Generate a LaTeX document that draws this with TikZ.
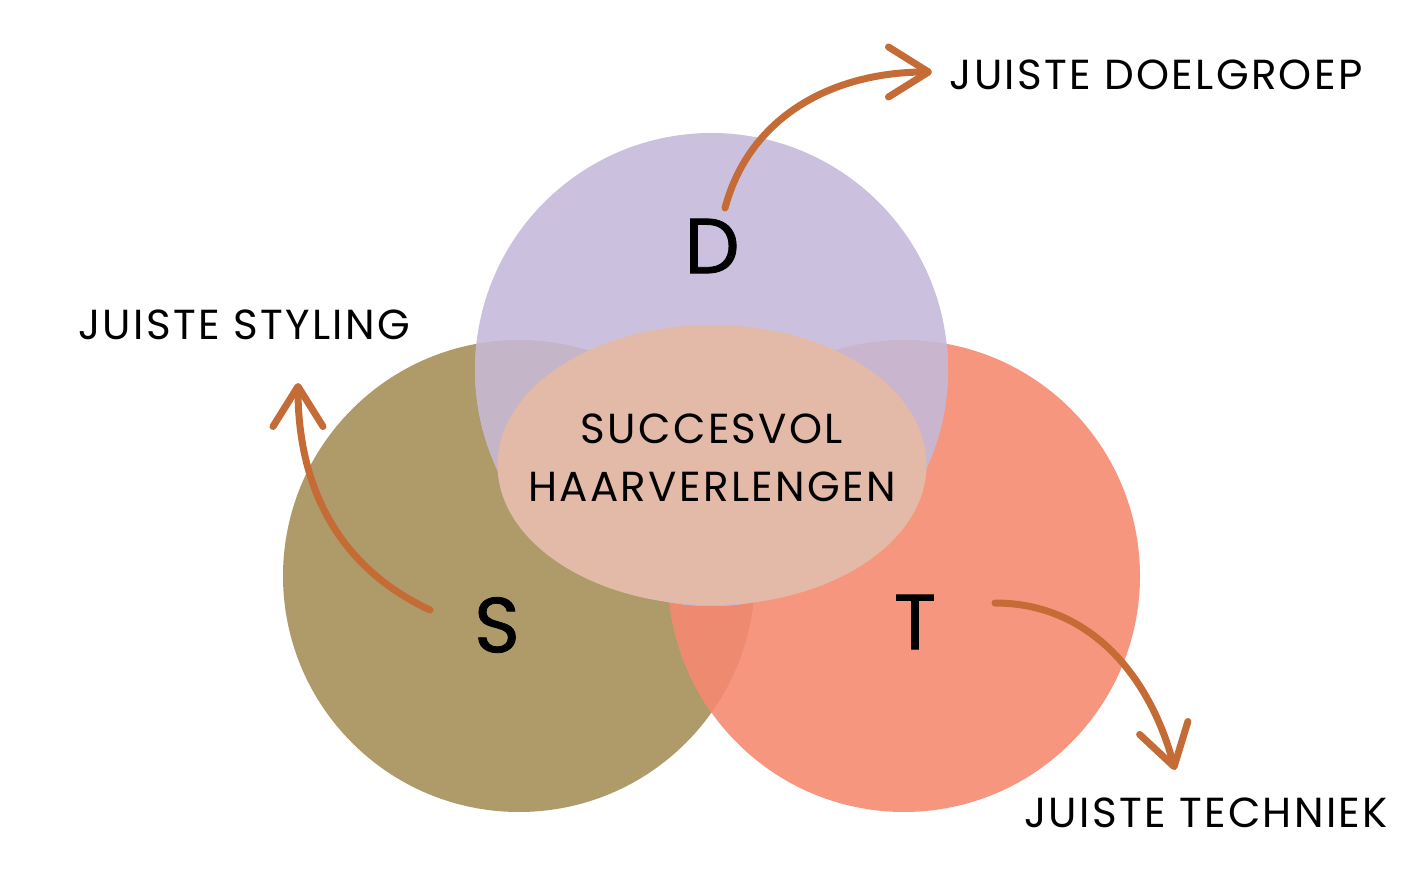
\documentclass[tikz,border=0pt]{standalone}
\usepackage{fontspec}
\setmainfont{Poppins}
\usetikzlibrary{arrows.meta}
\definecolor{stylkleur}{HTML}{AF9B69}
\definecolor{techkleur}{HTML}{F7967E}
\definecolor{doelkleur}{HTML}{CBC1DF}
\definecolor{stkleur}{HTML}{EE8A6F}
\definecolor{dskleur}{HTML}{C4B5C9}
\definecolor{dtkleur}{HTML}{CAB5CF}
\definecolor{kernkleur}{HTML}{E3B9A7}
\definecolor{pijlkleur}{HTML}{C46B36}
\begin{document}
\begin{tikzpicture}[x=1pt,y=1pt,
  label/.style={inner sep=0pt,font=\fontsize{42}{58}\selectfont\addfontfeature{LetterSpace=5.5}},
  letter/.style={inner sep=0pt,font=\fontsize{78}{80}\selectfont\addfontfeature{FakeBold=1}},
  pijl/.style={draw=pijlkleur,line width=7pt,line cap=round,
    -{Straight Barb[round,length=40pt,width=50pt]}}]
\useasboundingbox (0,0) rectangle (1424,887);
\fill[stylkleur] (519,311) circle (236);
\fill[techkleur] (904,311) circle (236);
\begin{scope}
  \clip (519,311) circle (236);
  \fill[stkleur] (904,311) circle (236);
\end{scope}
\fill[doelkleur] (711.5,517.5) circle (236.5);
\begin{scope}
  \clip (711.5,517.5) circle (236.5);
  \fill[dskleur] (519,311) circle (236);
  \fill[dtkleur] (904,311) circle (236);
\end{scope}
\fill[kernkleur] (712,422) ellipse (214.5 and 140);
\node[letter] (dlet) at (712,641) {D};
\node[letter] (slet) at (497,262) {S};
\node[letter] (tlet) at (915,265) {T};
\node[label,align=center] (succes) at (712,429) {SUCCESVOL\\HAARVERLENGEN};
\node[label] (doel) at (1156,812) {JUISTE DOELGROEP};
\node[label] (styl) at (244,562) {JUISTE STYLING};
\node[label] (tech) at (1206,74) {JUISTE TECHNIEK};
\coordinate (dstart) at (725,679);
\coordinate (dend) at (932,815);
\coordinate (sstart) at (430,277);
\coordinate (send) at (298,504);
\coordinate (tstart) at (995,284);
\coordinate (tend) at (1175,117);
\draw[pijl] (dstart) to[out=75,in=180] (dend);
\draw[pijl] (sstart) to[out=155,in=-90] (send);
\draw[pijl] (tstart) to[out=0,in=105] (tend);
\end{tikzpicture}
\end{document}
